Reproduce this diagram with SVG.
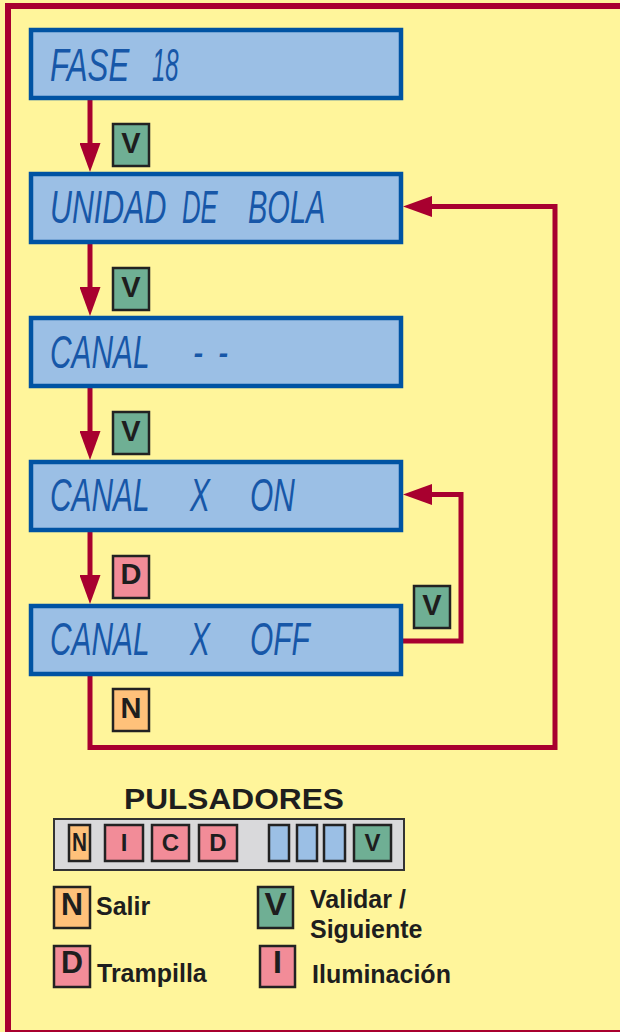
<svg xmlns="http://www.w3.org/2000/svg" width="620" height="1032" viewBox="0 0 620 1032">
<defs>
<style>
.lcdbox{fill:#9BBFE5;stroke:#0053A3;stroke-width:4.5}
.lcd{font-family:"Liberation Sans",Arial,sans-serif;font-style:italic;font-size:46px;fill:#1757A8}
.conn{fill:none;stroke:#A8002F;stroke-width:5;stroke-linejoin:miter}
.badge{stroke:#222;stroke-width:2.5}
.green{fill:#6FAF94}
.pink{fill:#F28C98}
.orange{fill:#FFC17A}
.blue{fill:#9BBFE5}
.bl{font-family:"Liberation Sans",Arial,sans-serif;font-weight:bold;fill:#1E1E1E;text-anchor:middle}
.lt{font-family:"Liberation Sans",Arial,sans-serif;font-weight:bold;fill:#1E1E1E;font-size:25px}
</style>
<marker id="ah" markerUnits="userSpaceOnUse" markerWidth="29" markerHeight="21" refX="0" refY="10.5" orient="auto">
<path d="M0,0 L29,10.5 L0,21 z" fill="#A8002F"/>
</marker>
</defs>
<rect x="0" y="0" width="620" height="1032" fill="#FFF59B"/>
<rect x="8" y="6" width="640" height="1027" fill="none" stroke="#A8002F" stroke-width="6"/>

<g id="connectors">
<path class="conn" d="M90,100 V143" marker-end="url(#ah)"/>
<path class="conn" d="M90,244 V287" marker-end="url(#ah)"/>
<path class="conn" d="M90,388 V431" marker-end="url(#ah)"/>
<path class="conn" d="M90,532 V575" marker-end="url(#ah)"/>
<path class="conn" d="M403,641 H461 V494.5 H432" marker-end="url(#ah)"/>
<path class="conn" d="M90,676 V747.5 H555 V206.5 H432" marker-end="url(#ah)"/>
</g>

<g id="n-fase18">
<rect class="lcdbox" x="31" y="30" width="370" height="68"/>
<text class="lcd" transform="scale(0.68,1)" x="73.5" y="81">FASE</text>
<text class="lcd" transform="scale(0.52,1)" x="292.3" y="81">18</text>
</g>
<g id="n-unidad">
<rect class="lcdbox" x="31" y="174" width="370" height="68"/>
<text class="lcd" transform="scale(0.66,1)" x="75.8" y="223">UNIDAD</text>
<text class="lcd" transform="scale(0.56,1)" x="325" y="223">DE</text>
<text class="lcd" transform="scale(0.63,1)" x="393.7" y="223">BOLA</text>
</g>
<g id="n-canal">
<rect class="lcdbox" x="31" y="318" width="370" height="68"/>
<text class="lcd" transform="scale(0.65,1)"><tspan x="76.9" y="368">CANAL</tspan><tspan x="296.9" y="368">-</tspan><tspan x="335.4" y="368">-</tspan></text>
</g>
<g id="n-canal-on">
<rect class="lcdbox" x="31" y="462" width="370" height="68"/>
<text class="lcd" transform="scale(0.65,1)"><tspan x="76.9" y="511">CANAL</tspan><tspan x="292.3" y="511">X</tspan><tspan x="384.6" y="511">ON</tspan></text>
</g>
<g id="n-canal-off">
<rect class="lcdbox" x="31" y="606" width="370" height="68"/>
<text class="lcd" transform="scale(0.65,1)"><tspan x="76.9" y="655">CANAL</tspan><tspan x="292.3" y="655">X</tspan><tspan x="384.6" y="655">OFF</tspan></text>
</g>

<g id="labels">
<rect class="badge green" x="113" y="124" width="36" height="42"/>
<text class="bl" x="131" y="153" font-size="29">V</text>
<rect class="badge green" x="113" y="268" width="36" height="42"/>
<text class="bl" x="131" y="297" font-size="29">V</text>
<rect class="badge green" x="113" y="412" width="36" height="42"/>
<text class="bl" x="131" y="441" font-size="29">V</text>
<rect class="badge pink" x="113" y="556" width="36" height="42"/>
<text class="bl" x="131" y="584" font-size="29">D</text>
<rect class="badge orange" x="113" y="689" width="36" height="42"/>
<text class="bl" x="131" y="718" font-size="29">N</text>
<rect class="badge green" x="414" y="586" width="36" height="42"/>
<text class="bl" x="432" y="615" font-size="29">V</text>
</g>

<g id="legend">
<text class="bl" x="234" y="809" font-size="30" textLength="220" lengthAdjust="spacingAndGlyphs">PULSADORES</text>
<rect x="54" y="819" width="350" height="51" fill="#D9D9DB" stroke="#333" stroke-width="2"/>
<rect class="badge orange" x="69" y="825" width="21" height="36"/>
<text class="bl" x="79.5" y="851" font-size="25" textLength="15" lengthAdjust="spacingAndGlyphs">N</text>
<rect class="badge pink" x="105" y="825" width="38" height="36"/>
<text class="bl" x="124" y="851" font-size="24">I</text>
<rect class="badge pink" x="152" y="825" width="37" height="36"/>
<text class="bl" x="170.5" y="851" font-size="24">C</text>
<rect class="badge pink" x="199" y="825" width="38" height="36"/>
<text class="bl" x="218" y="851" font-size="24">D</text>
<rect class="badge blue" x="269" y="825" width="20" height="36"/>
<rect class="badge blue" x="297" y="825" width="20" height="36"/>
<rect class="badge blue" x="324" y="825" width="21" height="36"/>
<rect class="badge green" x="354" y="825" width="37" height="36"/>
<text class="bl" x="372.5" y="851" font-size="24">V</text>

<rect class="badge orange" x="54" y="887" width="36" height="41"/>
<text class="bl" x="72" y="915" font-size="32" textLength="22" lengthAdjust="spacingAndGlyphs">N</text>
<text class="lt" x="96" y="915">Salir</text>
<rect class="badge green" x="258" y="887" width="35" height="41"/>
<text class="bl" x="275.5" y="915" font-size="32" textLength="22" lengthAdjust="spacingAndGlyphs">V</text>
<text class="lt" x="310" y="908">Validar /</text>
<text class="lt" x="310" y="938">Siguiente</text>
<rect class="badge pink" x="54" y="946" width="36" height="41"/>
<text class="bl" x="72" y="973" font-size="32" textLength="22" lengthAdjust="spacingAndGlyphs">D</text>
<text class="lt" x="97" y="982">Trampilla</text>
<rect class="badge pink" x="260" y="946" width="35" height="41"/>
<text class="bl" x="277.5" y="973" font-size="32">I</text>
<text class="lt" x="312" y="983">Iluminación</text>
</g>
</svg>
